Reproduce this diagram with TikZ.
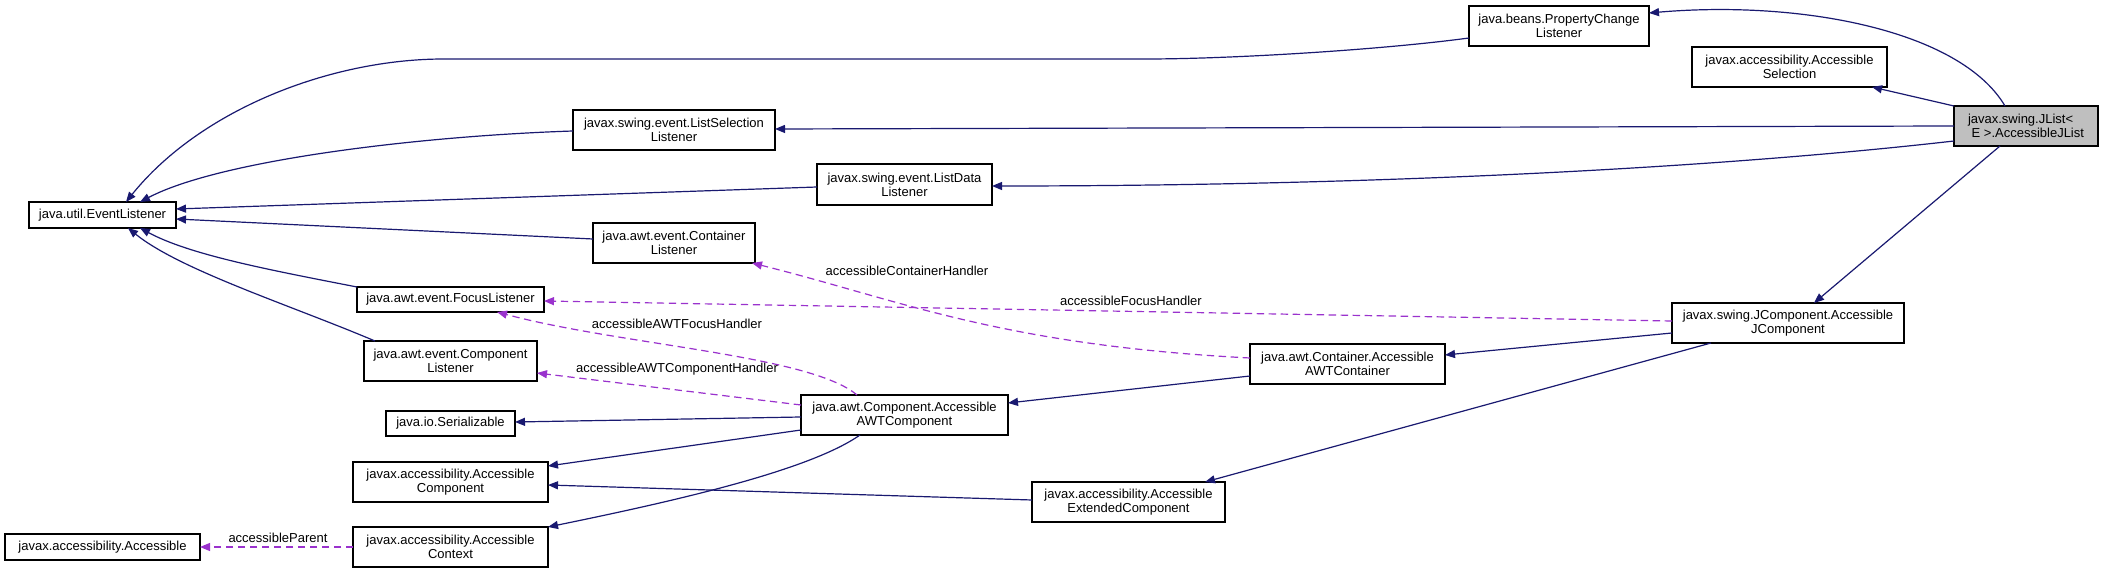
\documentclass[tikz,border=0pt]{standalone}
\usepackage{fontspec}
\setmainfont{Liberation Sans}
\usetikzlibrary{arrows.meta}
\definecolor{edgeblue}{HTML}{191970}
\definecolor{edgepurple}{HTML}{9A32CD}
\definecolor{jlgray}{HTML}{BFBFBF}
\tikzset{
 box/.style={draw=black,line width=0.8pt,fill=white,inner sep=0pt,outer sep=0pt,align=center,font=\fontsize{9.75}{10.5}\selectfont},
 inh/.style={draw=edgeblue,line width=0.9pt,-{Triangle[length=7.5pt,width=6pt]}},
 use/.style={draw=edgepurple,line width=0.9pt,dash pattern=on 5.5pt off 3.5pt,-{Triangle[length=7.5pt,width=6pt]}},
 lbl/.style={font=\fontsize{9.75}{10.5}\selectfont,inner sep=0pt}
}
\newcommand\dbox[7][]{\node[box,#1,minimum width={(#5-#3)*0.75pt},minimum height={(#6-#4)*0.75pt}] (#2) at ({(#3+#5)/2},{(#4+#6)/2}) {#7};}
\begin{document}
\begin{tikzpicture}[x=0.75pt,y=-0.75pt]
\fill[white] (0,0) rectangle (2103,573);
\useasboundingbox (0,0) rectangle (2103,573);
% nodes
\dbox{el}{29}{202}{176}{228}{java.util.EventListener}
\dbox{pcl}{1469}{6}{1649}{46}{java.beans.PropertyChange\\Listener}
\dbox{asel}{1692}{47}{1887}{87}{javax.accessibility.Accessible\\Selection}
\dbox[fill=jlgray,align=left]{jl}{1954}{106}{2098}{146}{javax.swing.JList<\\\hspace*{0.28em}E >.AccessibleJList}
\dbox{lsl}{573}{110}{775}{150}{javax.swing.event.ListSelection\\Listener}
\dbox{ldl}{817}{164}{992}{205}{javax.swing.event.ListData\\Listener}
\dbox{cl}{593}{223}{755}{263}{java.awt.event.Container\\Listener}
\dbox{fl}{357}{287}{544}{312}{java.awt.event.FocusListener}
\dbox{cml}{364}{341}{537}{381}{java.awt.event.Component\\Listener}
\dbox{ser}{386}{411}{515}{436}{java.io.Serializable}
\dbox{acomp}{353}{462}{548}{502}{javax.accessibility.Accessible\\Component}
\dbox{actx}{353}{527}{548}{567}{javax.accessibility.Accessible\\Context}
\dbox{acc}{5}{534}{200}{560}{javax.accessibility.Accessible}
\dbox{jcomp}{1672}{303}{1904}{343}{javax.swing.JComponent.Accessible\\JComponent}
\dbox{awtcont}{1250}{344}{1445}{384}{java.awt.Container.Accessible\\AWTContainer}
\dbox{awtcomp}{801}{395}{1008}{435}{java.awt.Component.Accessible\\AWTComponent}
\dbox{ext}{1032}{482}{1225}{522}{javax.accessibility.Accessible\\ExtendedComponent}
% inheritance edges
\draw[inh] (lsl.west |- 0,131) .. controls (420,136) and (220,160) .. (140,0 |- el.north);
\draw[inh] (pcl.west |- 0,38) .. controls (1380,50) and (1230,59) .. (1146,59) -- (444,59) .. controls (330,59) and (200,110) .. (126,0 |- el.north);
\draw[inh] (ldl.west |- 0,187) -- (el.east |- 0,209);
\draw[inh] (cl.west |- 0,239) -- (el.east |- 0,219);
\draw[inh] (fl.north west) .. controls (270,270) and (190,255) .. (140,0 |- el.south);
\draw[inh] (375,0 |- cml.north) .. controls (290,305) and (180,270) .. (128,0 |- el.south);
\draw[inh] (2005,0 |- jl.north) .. controls (1960,30) and (1800,0) .. (pcl.east |- 0,13);
\draw[inh] (jl.north west) -- (1872,0 |- asel.south);
\draw[inh] (jl.west |- 0,126) -- (lsl.east |- 0,129);
\draw[inh] (jl.west |- 0,141) .. controls (1700,170) and (1350,186) .. (ldl.east |- 0,186);
\draw[inh] (2000,0 |- jl.south) -- (1814,0 |- jcomp.north);
\draw[inh] (jcomp.west |- 0,333) -- (awtcont.east |- 0,355);
\draw[inh] (1711,0 |- jcomp.south) -- (1205,0 |- ext.north);
\draw[inh] (awtcont.west |- 0,376) -- (awtcomp.east |- 0,403);
\draw[inh] (awtcomp.west |- 0,417) -- (ser.east |- 0,422);
\draw[inh] (awtcomp.west |- 0,430) -- (acomp.east |- 0,466);
\draw[inh] (860,0 |- awtcomp.south) .. controls (810,470) and (680,500) .. (actx.north east);
\draw[inh] (ext.west |- 0,500) -- (acomp.east |- 0,485);
% usage edges
\draw[use] (jcomp.west |- 0,321) -- (fl.east |- 0,301);
\draw[use] (awtcont.west |- 0,358) .. controls (1000,345) and (900,300) .. (752,0 |- cl.south);
\draw[use] (857,0 |- awtcomp.north) .. controls (810,355) and (620,345) .. (497,0 |- fl.south);
\draw[use] (awtcomp.west |- 0,405) -- (cml.east |- 0,373);
\draw[use] (actx.west |- 0,547) -- (acc.east |- 0,547);
% labels
\node[lbl] (lfh) at (1131,301) {accessibleFocusHandler};
\node[lbl] (lch) at (907,271) {accessibleContainerHandler};
\node[lbl] (lafh) at (677,324) {accessibleAWTFocusHandler};
\node[lbl] (lach) at (677,369) {accessibleAWTComponentHandler};
\node[lbl] (lap) at (278,538) {accessibleParent};
\end{tikzpicture}
\end{document}
